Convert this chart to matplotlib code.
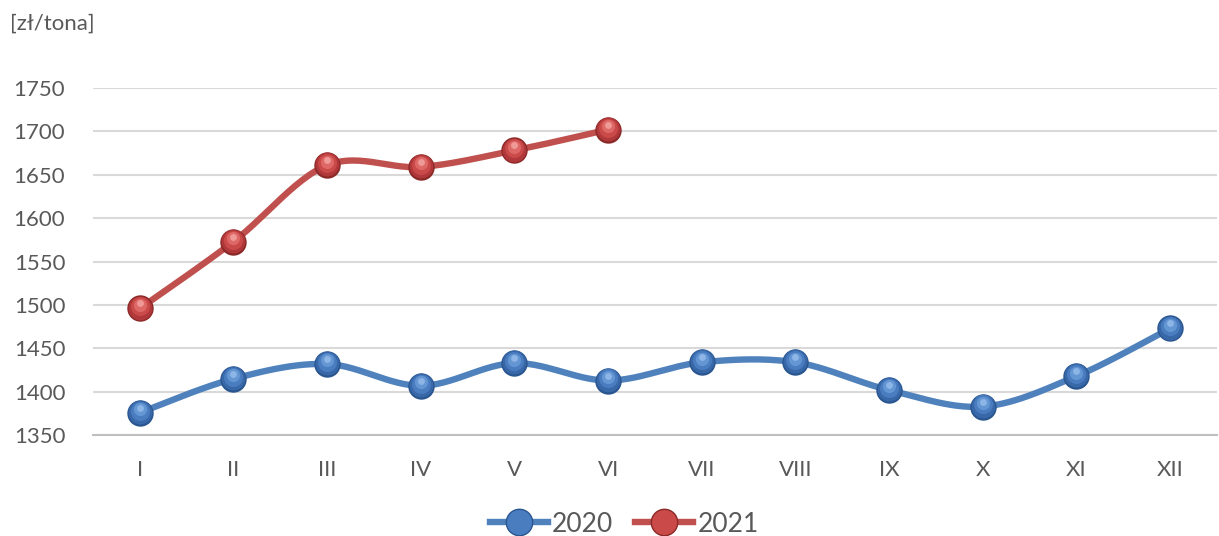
import numpy as np
import matplotlib
matplotlib.use("Agg")
import matplotlib.pyplot as plt
from matplotlib.lines import Line2D
from matplotlib.transforms import offset_copy

months = ["I", "II", "III", "IV", "V", "VI", "VII", "VIII", "IX", "X", "XI", "XII"]
v2020 = [1376, 1415, 1432, 1407, 1433, 1413, 1434, 1434, 1402, 1383, 1418, 1473]
v2021 = [1496, 1573, 1661, 1659, 1678, 1702]
yticks = [1350, 1400, 1450, 1500, 1550, 1600, 1650, 1700, 1750]

plt.rcParams['font.family'] = ['Lato', 'DejaVu Sans']
TXT = '#595959'

def smooth(x, y, n=30):
    x = np.asarray(x, float); y = np.asarray(y, float)
    px, py = [], []
    for i in range(len(x) - 1):
        x0, y0 = (x[i-1], y[i-1]) if i > 0 else (x[i], y[i])
        x3, y3 = (x[i+2], y[i+2]) if i + 2 < len(x) else (x[i+1], y[i+1])
        x1, y1, x2, y2 = x[i], y[i], x[i+1], y[i+1]
        c1x, c1y = x1 + (x2 - x0) / 6, y1 + (y2 - y0) / 6
        c2x, c2y = x2 - (x3 - x1) / 6, y2 - (y3 - y1) / 6
        t = np.linspace(0, 1, n)
        bx = (1-t)**3*x1 + 3*(1-t)**2*t*c1x + 3*(1-t)*t**2*c2x + t**3*x2
        by = (1-t)**3*y1 + 3*(1-t)**2*t*c1y + 3*(1-t)*t**2*c2y + t**3*y2
        px.extend(bx); py.extend(by)
    return np.array(px), np.array(py)

fig = plt.figure(figsize=(12.19, 5.36), dpi=100)
ax = fig.add_axes([0.0763, 0.188, 0.922, 0.648])

MS = 19
series = [(v2020, '#4F81BD', ['#2a5690', '#3868a8', '#4a7dc0', '#6496d4', '#8db5e6'], '2020'),
          (v2021, '#C0504D', ['#8a2927', '#b0383a', '#c94a48', '#de6866', '#f09a98'], '2021')]
layers = [(1.0, 0.0), (0.9, 0.6), (0.72, 1.5), (0.5, 2.6), (0.26, 3.6)]
for vals, lc, shades, lab in series:
    x = np.arange(len(vals))
    sx, sy = smooth(x, vals)
    ax.plot(sx, sy, color=lc, lw=4.6, solid_capstyle='round', zorder=3)
    for (scale, dy), col in zip(layers, shades):
        tr = offset_copy(ax.transData, fig=fig, x=0, y=dy, units='points')
        ax.plot(x, vals, ls='none', marker='o', ms=MS * scale, mfc=col, mec='none',
                transform=tr, zorder=4)

ax.set_xlim(-0.5, 11.5)
ax.set_ylim(1350, 1750)
ax.set_yticks(yticks)
ax.set_xticks(range(12))
ax.set_xticklabels(months)
ax.grid(axis='y', color='#d9d9d9', lw=1.5)
ax.set_axisbelow(True)
for s in ['top', 'right', 'left']:
    ax.spines[s].set_visible(False)
ax.spines['bottom'].set_color('#bfbfbf')
ax.spines['bottom'].set_linewidth(1.5)
ax.tick_params(axis='both', length=0, labelsize=16, colors=TXT)
ax.tick_params(axis='x', pad=18)
ax.tick_params(axis='y', pad=20)

fig.text(0.008, 0.955, '[zł/tona]', fontsize=16, color=TXT, ha='left', va='center')

handles = [Line2D([0], [0], color='#4F81BD', lw=4.6, marker='o', ms=MS, mfc='#4a7dc0', mec='#2a5690'),
           Line2D([0], [0], color='#C0504D', lw=4.6, marker='o', ms=MS, mfc='#c94a48', mec='#8a2927')]
fig.legend(handles, ['2020', '2021'], loc='center', bbox_to_anchor=(0.512, 0.022), ncol=2, frameon=False,
           fontsize=19, labelcolor=TXT, handlelength=2.2, handletextpad=0.15, columnspacing=0.85)

fig.savefig('out.png', dpi=100)
